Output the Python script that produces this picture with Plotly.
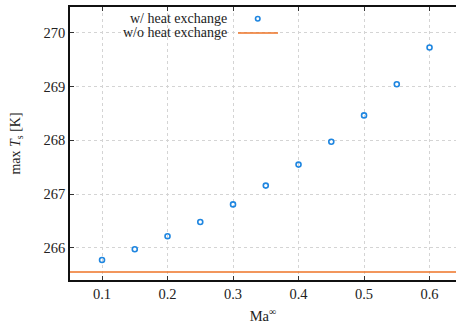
import plotly.graph_objects as go

mach = [0.1, 0.15, 0.2, 0.25, 0.3, 0.35, 0.4, 0.45, 0.5, 0.55, 0.6]
tmax_hx = [265.777, 265.976, 266.217, 266.483, 266.81, 267.16, 267.55, 267.976, 268.465, 269.043, 269.727]
tmax_nohx = 265.554
xticks = [0.1, 0.2, 0.3, 0.4, 0.5, 0.6]
yticks = [266, 267, 268, 269, 270]
label_hx = "w/ heat exchange"
label_nohx = "w/o heat exchange"

BLUE = "#1f86e0"
ORANGE = "#ee7326"
FONT = "Liberation Serif"

xr = [0.0511, 0.6404]
yr = [265.405, 270.48]

fig = go.Figure()
fig.add_trace(go.Scatter(
    x=mach, y=tmax_hx, mode="markers", name=label_hx, showlegend=False,
    marker=dict(symbol="circle-open", size=5, color=BLUE, line=dict(width=1.6, color=BLUE)),
))
fig.add_trace(go.Scatter(
    x=xr, y=[tmax_nohx, tmax_nohx], mode="lines", name=label_nohx, showlegend=False,
    line=dict(color=ORANGE, width=1.5),
))

W, H = 456, 331
ml, mr, mt, mb = 70, 0, 7, 51
pw, ph = W - ml - mr, H - mt - mb

def px(xpix):
    return (xpix - ml) / pw

def py(ypix):
    return 1 - (ypix - mt) / ph

shapes = [
    dict(type="rect", xref="paper", yref="paper", x0=px(76), x1=px(286), y0=py(41), y1=py(7.5),
         fillcolor="white", line=dict(width=0), layer="between"),
    dict(type="line", xref="paper", yref="paper", x0=px(238), x1=px(278), y0=py(33), y1=py(33),
         line=dict(color=ORANGE, width=1.5)),
    dict(type="circle", xref="paper", yref="paper", x0=px(255.5), x1=px(260), y0=py(21), y1=py(16.5),
         line=dict(color=BLUE, width=1.6)),
]
annotations = [
    dict(text=label_hx, xref="paper", yref="paper", x=px(229), y=py(18.5), xanchor="right",
         yanchor="middle", showarrow=False, font=dict(family=FONT, size=14, color="#222")),
    dict(text=label_nohx, xref="paper", yref="paper", x=px(229), y=py(32.5), xanchor="right",
         yanchor="middle", showarrow=False, font=dict(family=FONT, size=14, color="#222")),
]

fig.update_layout(
    width=W, height=H,
    margin=dict(l=ml, r=mr, t=mt, b=mb, pad=0),
    paper_bgcolor="white", plot_bgcolor="white",
    font=dict(family=FONT, size=14, color="#222"),
    shapes=shapes, annotations=annotations,
    xaxis=dict(
        range=xr, tickvals=xticks, ticktext=[f"{v:.1f}" for v in xticks],
        showline=True, linecolor="#111", linewidth=1.5, mirror="ticks",
        ticks="inside", ticklen=4, tickcolor="#333", tickwidth=1,
        showgrid=True, gridcolor="#d4d4d4", griddash="dot", gridwidth=1,
        zeroline=False,
        title=dict(text="Ma<sup>∞</sup>", standoff=10, font=dict(family=FONT, size=14.5)),
        tickfont=dict(family=FONT, size=14.5),
    ),
    yaxis=dict(
        range=yr, tickvals=yticks,
        showline=True, linecolor="#111", linewidth=1.5,
        ticks="inside", ticklen=4, tickcolor="#333", tickwidth=1,
        showgrid=True, gridcolor="#d4d4d4", griddash="dot", gridwidth=1,
        zeroline=False,
        title=dict(text="max <i>T</i><sub>s</sub> [K]", standoff=20, font=dict(family=FONT, size=14)),
        tickfont=dict(family=FONT, size=14.5),
    ),
)

fig.write_html("out.html")
